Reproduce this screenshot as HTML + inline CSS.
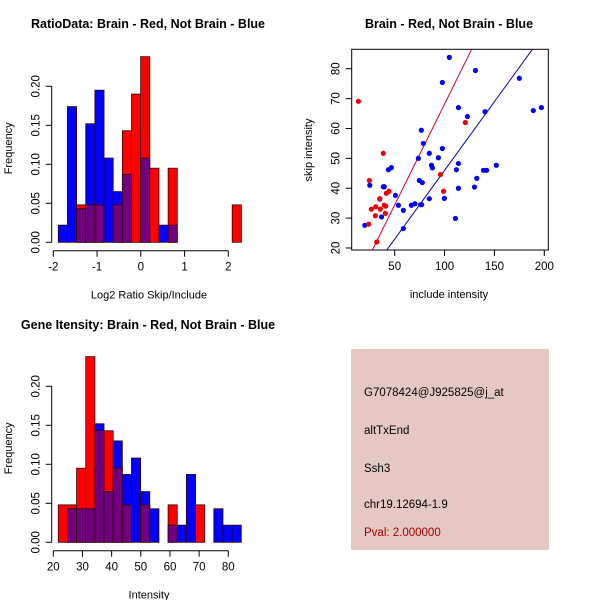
<!DOCTYPE html>
<html><head><meta charset="utf-8"><style>
html,body{margin:0;padding:0;background:#fff;}
svg{display:block;font-family:"Liberation Sans",Arial,sans-serif;}
</style></head><body>
<svg id="c" width="600" height="600" viewBox="0 0 600 600">
<rect x="351" y="349" width="198" height="201" fill="#e6c8c2"/>
<text x="364" y="396" font-size="11.5">G7078424@J925825@j_at</text>
<text x="364" y="434" font-size="11.5">altTxEnd</text>
<text x="364" y="472" font-size="11.5">Ssh3</text>
<text x="364" y="508" font-size="11.5">chr19.12694-1.9</text>
<text x="364" y="536" font-size="11.5" fill="#a00000">Pval: 2.000000</text>
</svg>
<script>
// ---- Ratio histogram data ----
const ratioBinStart = -1.886;
const ratioBinWidth = 0.2092;
const ratioRed  = [0,0,0.048,0.048,0.048,0,0.048,0.143,0.190,0.238,0.095,0,0.095,0,0,0,0,0,0,0.048];
const ratioBlue = [0.022,0.174,0.043,0.152,0.195,0.108,0.065,0.087,0,0.108,0,0.022,0.022,0,0,0,0,0,0,0];
const ratioXTicks = [-2,-1,0,1,2];
const freqTicks = ["0.00","0.05","0.10","0.15","0.20"];
// ---- Intensity histogram data ----
const intBinStart = 21.71;
const intBinWidth = 3.137;
const intRed  = [0.048,0.048,0.095,0.238,0.143,0.143,0.095,0.048,0,0.048,0,0,0.048,0,0,0.048,0,0,0,0];
const intBlue = [0,0.043,0.043,0.043,0.152,0.065,0.130,0.087,0.108,0.065,0.043,0,0.022,0.022,0.087,0,0,0.043,0.022,0.022];
const intXTicks = [20,30,40,50,60,70,80];
// ---- Scatter data ----
const redInclude = [13.6,38.6,24.6,24,32,26.6,31,30.6,35,35.6,39.6,40.6,41,41.6,44.3,120.8,95.9,99];
const redSkip    = [69.1,51.7,42.6,28,22,33,33.8,30.8,36.5,33,34.3,31.6,34,38.3,39,62,44.6,39];
const blueInclude = [20,25,38.6,39.6,35,36.8,43.7,46.7,50.7,53.7,58.7,58.7,66.7,70.3,76,77,76.7,78.7,73.7,74.7,77.7,84.7,84.7,86.9,87.8,93.8,97.8,97.8,99.8,104.8,111.9,113.9,113.9,113.9,110.9,123,131,130,132.3,140.6,139,142.2,151.9,175,189,197.1];
const blueSkip    = [27.6,41,40.5,40.5,36.4,30.4,46.2,46.9,37.6,34.3,32.6,26.5,34.3,34.8,34.5,34.5,59.4,55,50,42.6,41.9,51.7,36.5,47.7,46.8,50.2,53.3,75.4,36.6,83.8,46.2,48.3,67,40,29.9,64,79.4,40.4,43.3,65.6,46,46,47.7,76.8,66,67];
const fitRed  = [0.67, 0.675];   // intercept, slope
const fitBlue = [-0.02, 0.46];
const scatXTicks = [50,100,150,200];
const scatYTicks = [20,30,40,50,60,70,80];

const svg = document.getElementById('c');
const NS = 'http://www.w3.org/2000/svg';
function mk(tag, attrs, parent){const e=document.createElementNS(NS,tag);for(const k in attrs)e.setAttribute(k,attrs[k]);(parent||svg).appendChild(e);return e;}
function txt(x,y,s,size,extra){const t=mk('text',Object.assign({x:x,y:y,'font-size':size,'text-anchor':'middle'},extra||{}));t.textContent=s;return t;}

function histogram(prefix, red, blue, start, width, xTicks, xs, yBase, title, xlabel, titleY){
  const ys = v => yBase - v*780;
  for(let i=0;i<red.length;i++){
    const x0=xs(start+i*width), x1=xs(start+(i+1)*width);
    const r=red[i], b=blue[i];
    const hi=Math.max(r,b), lo=Math.min(r,b);
    if(hi>0){
      const e=mk('rect',{x:x0,y:ys(hi),width:x1-x0,height:ys(0)-ys(hi),fill:r>=b?'#ff0000':'#0000ff',stroke:'#300',"stroke-width":0.8});
      
      
    }
    if(lo>0){
      const e=mk('rect',{x:x0,y:ys(lo),width:x1-x0,height:ys(0)-ys(lo),fill:'#700080',stroke:'#300',"stroke-width":0.8});
      
      
    }
  }
  const ax=51.7;
  const ya=mk('line',{x1:ax,x2:ax,y1:ys(0),y2:ys(0.2),stroke:'#000'});
  
  
  freqTicks.forEach(s=>{const v=parseFloat(s);mk('line',{x1:ax-6,x2:ax,y1:ys(v),y2:ys(v),stroke:'#000'});
    const t=txt(0,0,s,11.5,{transform:'translate('+(ax-12)+','+ys(v)+') rotate(-90)'});
    
    });
  const yA=yBase+8.4;
  const xa=mk('line',{x1:xs(xTicks[0]),x2:xs(xTicks[xTicks.length-1]),y1:yA,y2:yA,stroke:'#000'});
  
  
  xTicks.forEach(v=>{mk('line',{x1:xs(v),x2:xs(v),y1:yA,y2:yA+6,stroke:'#000'});
    const t=txt(xs(v),yA+20,String(v),11.5);
    
    });
  const tt=txt(148,titleY,title,12.5,{'font-weight':'bold'});
  
  
  const xl=txt(149,yBase+56,xlabel,11);
  
  
  const yl=txt(0,0,'Frequency',11,{transform:'translate(12,'+(yBase-94)+') rotate(-90)'});
  
  
}
histogram('ratio-hist', ratioRed, ratioBlue, ratioBinStart, ratioBinWidth, ratioXTicks,
  v=>53.3+(v+2)*43.75, 242.3, 'RatioData: Brain - Red, Not Brain - Blue', 'Log2 Ratio Skip/Include', 28);
histogram('intensity-hist', intRed, intBlue, intBinStart, intBinWidth, intXTicks,
  v=>53.3+(v-20)*2.9167, 542.3, 'Gene Itensity: Brain - Red, Not Brain - Blue', 'Intensity', 329);

// ---- scatter ----
const sx = v => 394.7+(v-50)*0.9973;
const sy = v => 248-(v-20)*2.988;
const L=351.7,R=548.3,T=49.3,B=250;
mk('defs',{}).innerHTML='<clipPath id="pc"><rect x="'+L+'" y="'+T+'" width="'+(R-L)+'" height="'+(B-T)+'"/></clipPath>';
const box=mk('rect',{x:L,y:T,width:R-L,height:B-T,fill:'none',stroke:'#000'});


function fit(f,color,name){const l=mk('line',{x1:sx(0),y1:sy(f[0]),x2:sx(260),y2:sy(f[0]+f[1]*260),stroke:color,'clip-path':'url(#pc)'});
  
  }
fit(fitRed,'#d0002a','red-fit-line');
fit(fitBlue,'#0000b0','blue-fit-line');
blueInclude.forEach((v,i)=>{const c=mk('circle',{cx:sx(v),cy:sy(blueSkip[i]),r:2.6,fill:'#0000ff'});
  
  });
redInclude.forEach((v,i)=>{const c=mk('circle',{cx:sx(v),cy:sy(redSkip[i]),r:2.6,fill:'#ee0000'});
  
  });
scatXTicks.forEach(v=>{mk('line',{x1:sx(v),x2:sx(v),y1:B,y2:B+6,stroke:'#000'});
  const t=txt(sx(v),B+20,String(v),11.5);
  
  });
scatYTicks.forEach(v=>{mk('line',{x1:L-6,x2:L,y1:sy(v),y2:sy(v),stroke:'#000'});
  const t=txt(0,0,String(v),11.5,{transform:'translate('+(L-12)+','+sy(v)+') rotate(-90)'});
  
  });
const st=txt(449,28,'Brain - Red, Not Brain - Blue',12.5,{'font-weight':'bold'});


const sxl=txt(449,298,'include intensity',11);


const syl=txt(0,0,'skip intensity',11,{transform:'translate(312,150) rotate(-90)'});


</script>
</body></html>
